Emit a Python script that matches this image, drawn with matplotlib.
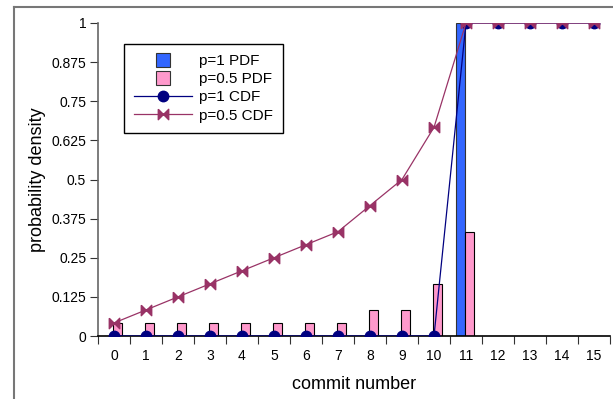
import numpy as np
import matplotlib
matplotlib.use("Agg")
import matplotlib.pyplot as plt
from matplotlib.lines import Line2D

plt.rcParams['font.family'] = ['Liberation Sans', 'DejaVu Sans']

commits = list(range(16))
p1_pdf = [0]*11 + [1, 0, 0, 0, 0]
p05_pdf = [0.0417]*8 + [0.0833, 0.0833, 0.1667, 0.3333, 0, 0, 0, 0]
p1_cdf = [0]*11 + [1, 1, 1, 1, 1]
p05_cdf = [0.0417, 0.0833, 0.125, 0.1667, 0.2083, 0.25, 0.2917, 0.3333,
           0.4167, 0.5, 0.6667, 1, 1, 1, 1, 1]
yticks = [0, 0.125, 0.25, 0.375, 0.5, 0.625, 0.75, 0.875, 1]
ytick_labels = ["0", "0.125", "0.25", "0.375", "0.5", "0.625", "0.75", "0.875", "1"]

fig = plt.figure(figsize=(6.13, 3.99), dpi=100)
ax = fig.add_axes([98/613, 1-336/399, (610-98)/613, (336-23)/399])

x = np.array(commits)
w = 0.28
ax.bar(x - 0.03 - w, p1_pdf, width=w, align='edge', color='#3366ff', edgecolor='#333333',
       linewidth=0.8, zorder=2)
ax.bar(x - 0.03, p05_pdf, width=w, align='edge', color='#ff99cc', edgecolor='#000000',
       linewidth=0.8, zorder=2)

ax.plot(x, p1_cdf, color='#000080', linewidth=0.9, marker='o', markersize=7.5,
        markerfacecolor='#000080', markeredgecolor='#000080', zorder=3)
bowtie = [(-1, 1), (-1, -1), (1, 1), (1, -1), (-1, 1)]
ax.plot(x, p05_cdf, color='#993366', linewidth=0.9, marker=bowtie, markersize=7.5,
        markerfacecolor='#993366', markeredgecolor='#993366', zorder=4)

ax.set_xlim(-0.5, 15.5)
ax.set_ylim(0, 1)
ax.set_yticks(yticks)
ax.set_yticklabels(ytick_labels, fontsize=10)
ax.set_xticks(np.arange(-0.5, 16, 1))
ax.set_xticklabels([])
ax.set_xticks(commits, minor=True)
ax.set_xticklabels([str(c) for c in commits], minor=True, fontsize=10)
ax.tick_params(axis='x', which='major', length=5.5, direction='out', color='#333333')
ax.tick_params(axis='x', which='minor', length=0, pad=9)
ax.tick_params(axis='y', length=5.5, direction='out', color='#333333', pad=3)

for s in ['top', 'right']:
    ax.spines[s].set_visible(False)
ax.spines['left'].set_color('#666666')
ax.spines['bottom'].set_color('#000000')
ax.spines['left'].set_linewidth(1.2)
ax.spines['bottom'].set_linewidth(1.2)

ax.set_xlabel('commit number', fontsize=13, labelpad=10)
ax.set_ylabel('probability density', fontsize=13, labelpad=4)

handles = [
    Line2D([], [], linestyle='none', marker='s', markersize=10,
           markerfacecolor='#3366ff', markeredgecolor='#333333', markeredgewidth=0.8),
    Line2D([], [], linestyle='none', marker='s', markersize=10,
           markerfacecolor='#ff99cc', markeredgecolor='#333333', markeredgewidth=0.8),
    Line2D([], [], color='#000080', linewidth=0.9, marker='o', markersize=7.5),
    Line2D([], [], color='#993366', linewidth=0.9, marker=bowtie, markersize=7.5),
]
labels = ['p=1 PDF', 'p=0.5 PDF', 'p=1 CDF', 'p=0.5 CDF']
leg = ax.legend(handles, labels, loc='upper left',
                bbox_to_anchor=((124-98)/512, 1-(44-23)/313),
                fontsize=11, frameon=True, fancybox=False, framealpha=1,
                edgecolor='black', borderpad=0.65, handlelength=3.8, handletextpad=0.45,
                labelspacing=0.28, borderaxespad=0)
leg.get_frame().set_linewidth(1.0)

fig.add_artist(Line2D([14/613, 14/613], [0, 1-7/399], transform=fig.transFigure,
                      color='#777777', linewidth=1.5))
fig.add_artist(Line2D([14/613, 1], [1-7/399, 1-7/399], transform=fig.transFigure,
                      color='#777777', linewidth=1.5))

fig.savefig('out.png', dpi=100)
